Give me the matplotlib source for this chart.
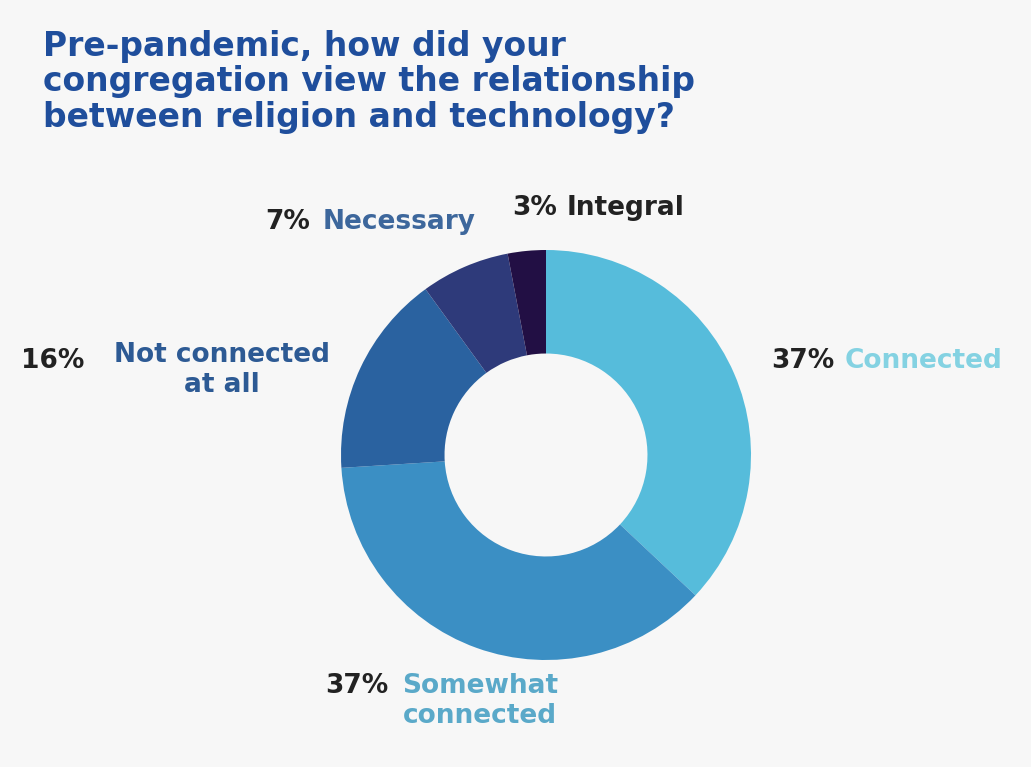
import matplotlib

matplotlib.use("Agg")
import matplotlib.pyplot as plt

# survey answers, clockwise from 12 o'clock
categories = ["Connected", "Somewhat connected", "Not connected at all", "Necessary", "Integral"]
shares = [37, 37, 16, 7, 3]
slice_colors = ["#56bcdb", "#3b8fc4", "#2a62a0", "#2e3a7a", "#220f44"]
label_colors = ["#84d2e2", "#5aa9c9", "#2d5a94", "#3d679c", "#222222"]

BG = "#f7f7f7"
W, H = 1031, 767

plt.rcParams["font.family"] = ["DejaVu Sans"]

fig = plt.figure(figsize=(W / 100, H / 100), dpi=100)
fig.patch.set_facecolor(BG)

# donut centred at (546, 455) px with outer radius ~205 px
cx, cy, r = 546, 455, 205
ax = fig.add_axes([(cx - r) / W, (H - cy - r) / H, 2 * r / W, 2 * r / H])
ax.pie(
    shares,
    colors=slice_colors,
    startangle=90,
    counterclock=False,
    radius=1.0,
    wedgeprops=dict(width=0.505, edgecolor="none"),
)
ax.set_xlim(-1, 1)
ax.set_ylim(-1, 1)
ax.set_aspect("equal")
ax.axis("off")


def px(x, y):
    return x / W, 1 - y / H


def put(x, y, s, color, size=19, ha="left"):
    fig.text(*px(x, y), s, fontsize=size, fontweight="bold", color=color,
             ha=ha, va="baseline")


# title, one line at a time
title_lines = ["Pre-pandemic, how did your",
               "congregation view the relationship",
               "between religion and technology?"]
for i, line in enumerate(title_lines):
    put(43, 56 + 35.5 * i, line, "#1f4e9c", size=23.8)

pct = [f"{v}%" for v in shares]
dark = "#222222"

# percentages are right-aligned against their category names
# Connected
put(834, 368, pct[0], dark, ha="right")
put(845, 368, categories[0], label_colors[0])

# Somewhat connected
put(388, 693, pct[1], dark, ha="right")
put(402, 693, "Somewhat", label_colors[1])
put(403, 723, "connected", label_colors[1])

# Not connected at all
put(84, 368, pct[2], dark, ha="right")
put(222, 362, "Not connected", label_colors[2], ha="center")
put(222, 392, "at all", label_colors[2], ha="center")

# Necessary
put(310, 229, pct[3], dark, ha="right")
put(323, 229, categories[3], label_colors[3])

# Integral
put(557, 215, pct[4], dark, ha="right")
put(567, 215, categories[4], label_colors[4])

fig.savefig("out.png", dpi=100, facecolor=fig.get_facecolor())
